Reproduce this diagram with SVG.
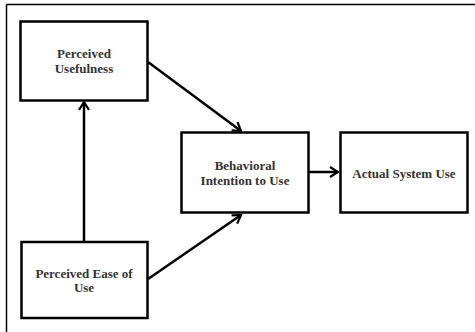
<svg xmlns="http://www.w3.org/2000/svg" width="475" height="332" viewBox="0 0 475 332">
<style>
.box{fill:#fff;stroke:#000;stroke-width:2.5}
.lbl{font-family:"Liberation Serif","Times New Roman",serif;font-weight:bold;font-size:13px;fill:#333;text-anchor:middle}
.edge{stroke:#000;stroke-width:2.5;fill:none}
</style>
<defs>
<marker id="arr" markerWidth="12" markerHeight="12" refX="10" refY="6" orient="auto" markerUnits="userSpaceOnUse">
<path d="M2,1 L10,6 L2,11" fill="none" stroke="#000" stroke-width="2.2"/>
</marker>
</defs>
<rect width="475" height="332" fill="#fff"/>
<g id="frame">
<line x1="6.5" y1="4.5" x2="475" y2="4.5" stroke="#000" stroke-width="1.5"/>
<line x1="6.5" y1="4.5" x2="6.5" y2="332" stroke="#000" stroke-width="1.5"/>
</g>
<g id="connectors">
<line class="edge" x1="84" y1="242" x2="84" y2="102" marker-end="url(#arr)"/>
<line class="edge" x1="148" y1="62" x2="241" y2="131" marker-end="url(#arr)"/>
<line class="edge" x1="148" y1="279" x2="241" y2="215" marker-end="url(#arr)"/>
<line class="edge" x1="309" y1="172" x2="338" y2="172" marker-end="url(#arr)"/>
</g>
<g id="pu">
<rect class="box" x="20.5" y="21.5" width="127" height="79"/>
<text class="lbl" x="84" y="58">Perceived</text>
<text class="lbl" x="84" y="73">Usefulness</text>
</g>
<g id="peu">
<rect class="box" x="21.5" y="242" width="126" height="76"/>
<text class="lbl" x="84" y="278">Perceived Ease of</text>
<text class="lbl" x="84" y="292">Use</text>
</g>
<g id="bi">
<rect class="box" x="181.5" y="132.5" width="127" height="80"/>
<text class="lbl" x="245" y="170">Behavioral</text>
<text class="lbl" x="245" y="185">Intention to Use</text>
</g>
<g id="asu">
<rect class="box" x="340.5" y="132.5" width="127" height="80"/>
<text class="lbl" x="404" y="178">Actual System Use</text>
</g>
</svg>
